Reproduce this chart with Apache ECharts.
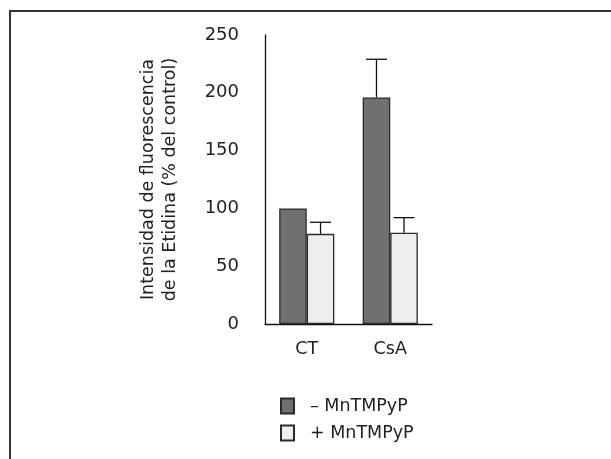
<!DOCTYPE html>
<html>
<head>
<meta charset="utf-8">
<script src="https://cdn.jsdelivr.net/npm/echarts@6/dist/echarts.min.js"></script>
<style>
  html, body { margin: 0; padding: 0; background: #fff; }
  #chart { width: 611px; height: 459px; }
</style>
</head>
<body>
<div id="chart"></div>
<script>
// categories and values (% of control)
const categories = ['CT', 'CsA'];
const seriesNames = ['– MnTMPyP', '+ MnTMPyP'];
const withoutMn = [100, 196];
const withMn = [78, 79];
const withoutMnErr = [null, 229];   // top of error bar
const withMnErr = [88, 92];

const FONT = '"DejaVu Sans", sans-serif';
const chart = echarts.init(document.getElementById('chart'));

// error bar drawn over a bar; side = -1 (left bar) or 1 (right bar)
function errorSeries(values, tops, side) {
  const data = [];
  values.forEach((v, i) => {
    if (tops[i] != null) data.push([i, v, tops[i]]);
  });
  return {
    type: 'custom',
    silent: true,
    z: 5,
    data: data,
    renderItem: function (params, api) {
      const band = api.size([1, 0])[0];
      const off = side * band * 0.165;
      const base = api.coord([api.value(0), api.value(1)]);
      const top = api.coord([api.value(0), api.value(2)]);
      const x = base[0] + off;
      const half = 10.5;
      const style = { stroke: '#111', lineWidth: 1.3 };
      return {
        type: 'group',
        children: [
          { type: 'line', shape: { x1: x, y1: base[1], x2: x, y2: top[1] }, style: style },
          { type: 'line', shape: { x1: x - half, y1: top[1], x2: x + half, y2: top[1] }, style: style }
        ]
      };
    }
  };
}

chart.setOption({
  animation: false,
  backgroundColor: '#fff',
  textStyle: { fontFamily: FONT, color: '#222' },
  graphic: [{
    type: 'rect',
    shape: { x: 10, y: 11, width: 700, height: 500 },
    style: { fill: 'none', stroke: '#333', lineWidth: 2 },
    silent: true
  }],
  grid: { left: 265, right: 179, top: 35, bottom: 135 },
  legend: {
    orient: 'vertical',
    left: 275,
    top: 392,
    icon: 'rect',
    itemWidth: 13,
    itemHeight: 15,
    itemGap: 9,
    data: seriesNames,
    textStyle: { fontFamily: FONT, fontSize: 17.5, color: '#222', padding: [0, 0, 0, 11] }
  },
  xAxis: {
    type: 'category',
    data: categories,
    axisLine: { lineStyle: { color: '#111', width: 1.3 } },
    axisTick: { show: false },
    axisLabel: { fontFamily: FONT, fontSize: 17.5, color: '#222', margin: 16 }
  },
  yAxis: {
    type: 'value',
    min: 0,
    max: 250,
    interval: 50,
    name: 'Intensidad de fluorescencia\nde la Etidina (% del control)',
    nameLocation: 'middle',
    nameGap: 84,
    nameTextStyle: { fontFamily: FONT, fontSize: 17.5, color: '#222', lineHeight: 22 },
    axisLine: { show: true, lineStyle: { color: '#111', width: 1.3 } },
    axisTick: { show: false },
    splitLine: { show: false },
    axisLabel: { fontFamily: FONT, fontSize: 18, color: '#222', margin: 26 }
  },
  series: [
    {
      name: seriesNames[0],
      type: 'bar',
      data: withoutMn,
      barWidth: '33%',
      barGap: '0%',
      itemStyle: { color: '#707070', borderColor: '#2a2a2a', borderWidth: 1.3 }
    },
    {
      name: seriesNames[1],
      type: 'bar',
      data: withMn,
      barWidth: '33%',
      barGap: '0%',
      itemStyle: { color: '#eeeeee', borderColor: '#2a2a2a', borderWidth: 1.3 }
    },
    errorSeries(withoutMn, withoutMnErr, -1),
    errorSeries(withMn, withMnErr, 1)
  ]
});
</script>
</body>
</html>
